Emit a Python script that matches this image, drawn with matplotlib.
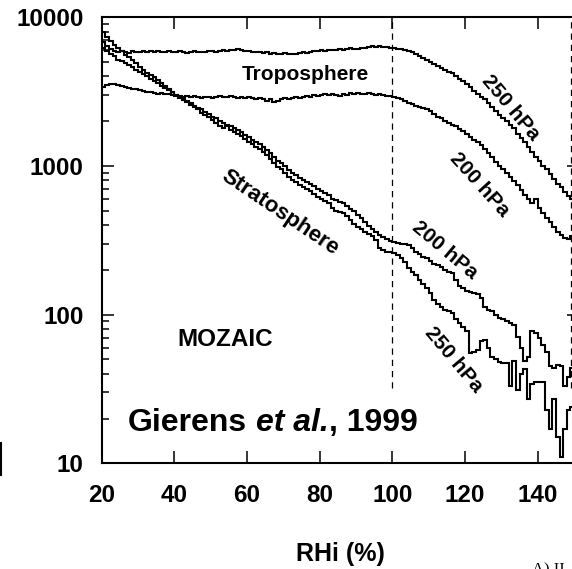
import numpy as np
import matplotlib.pyplot as plt
from matplotlib.lines import Line2D
from matplotlib.ticker import LogLocator, NullFormatter, FixedLocator, FixedFormatter

plt.rcParams['font.family'] = ['Liberation Sans', 'DejaVu Sans']
plt.rcParams['font.weight'] = 'bold'

# RHi bins of 1 %, from 20 to 150
rhi_edges = np.arange(20, 151)

tropo_250 = [6800, 6400, 6100, 5900, 5800, 5900, 5850, 5750, 5900, 5800,
             5850, 5950, 5800, 5900, 5850, 5950, 5800, 5850, 5950, 5800,
             5850, 5900, 5800, 5750, 5850, 5900, 5850, 5800, 5850, 5900,
             5950, 5850, 5900, 6000, 5950, 6050, 6000, 6100, 6000, 5950,
             5900, 5850, 5800, 5850, 5750, 5800, 5700, 5750, 5650, 5700,
             5750, 5700, 5650, 5700, 5750, 5800, 5750, 5850, 5900, 5950,
             6000, 5950, 6050, 6000, 6050, 6100, 6050, 6150, 6200, 6100,
             6150, 6250, 6200, 6300, 6400, 6350, 6400, 6300, 6350, 6250,
             6250, 6150, 6100, 6000, 5900, 5800, 5650, 5500, 5350, 5150,
             5000, 4850, 4700, 4550, 4400, 4300, 4200, 4000, 3850, 3700,
             3550, 3400, 3200, 3050, 2900, 2800, 2650, 2500, 2350, 2200,
             2100, 2000, 1900, 1800, 1650, 1550, 1450, 1350, 1250, 1150,
             1080, 1000, 950, 880, 820, 760, 720, 670, 630, 600]

tropo_200 = [3400, 3500, 3550, 3550, 3500, 3450, 3400, 3350, 3300, 3300,
             3250, 3200, 3150, 3150, 3100, 3050, 3100, 3050, 3050, 3000,
             2950, 2950, 2900, 2950, 2900, 2950, 2900, 2850, 2900, 2900,
             2850, 2900, 2950, 2900, 2900, 2950, 2900, 2850, 2900, 2850,
             2900, 2850, 2800, 2850, 2800, 2750, 2800, 2700, 2750, 2800,
             2850, 2800, 2850, 2900, 2850, 2900, 2950, 2900, 3000, 2950,
             3000, 3050, 3000, 3050, 3000, 2950, 3050, 3000, 3100, 3050,
             3100, 3050, 3050, 3100, 3050, 3000, 3050, 3000, 2950, 2950,
             2900, 2850, 2800, 2750, 2650, 2600, 2550, 2500, 2450, 2400,
             2350, 2250, 2150, 2100, 2000, 1950, 1900, 1850, 1780, 1720,
             1650, 1570, 1500, 1440, 1380, 1300, 1220, 1150, 1060, 1000,
             950, 900, 840, 790, 740, 690, 640, 600, 560, 600,
             520, 480, 450, 420, 390, 360, 345, 330, 325, 340]

strato_200 = [6200, 5900, 5650, 5450, 5200, 5050, 4900, 4750, 4600, 4450,
              4300, 4150, 4000, 3850, 3700, 3600, 3450, 3350, 3230, 3120,
              3020, 2900, 2800, 2750, 2650, 2550, 2450, 2400, 2300, 2250,
              2150, 2100, 2000, 1950, 1900, 1850, 1800, 1750, 1700, 1620,
              1560, 1500, 1450, 1400, 1350, 1280, 1220, 1150, 1080, 1050,
              1000, 940, 900, 870, 830, 800, 780, 760, 730, 700,
              680, 660, 640, 600, 590, 575, 560, 540, 515, 500,
              470, 450, 420, 395, 375, 360, 345, 335, 325, 315,
              310, 305, 300, 300, 295, 280, 265, 255, 245, 240,
              230, 220, 215, 210, 200, 195, 190, 170, 155, 150,
              145, 142, 140, 138, 130, 112, 108, 105, 100, 95,
              93, 90, 88, 85, 71, 60, 49, 52, 77, 75,
              70, 62, 56, 45, 44, 46, 45, 33, 38, 44]

strato_250 = [8000, 7400, 6900, 6500, 6200, 5900, 5600, 5400, 5200, 4900,
              4650, 4450, 4250, 4100, 3950, 3800, 3600, 3450, 3300, 3150,
              3000, 2880, 2780, 2680, 2580, 2480, 2400, 2280, 2200, 2130,
              2050, 1950, 1850, 1800, 1850, 1750, 1700, 1650, 1600, 1520,
              1460, 1400, 1350, 1300, 1250, 1180, 1120, 1050, 980, 960,
              900, 840, 800, 780, 740, 720, 700, 680, 650, 620,
              600, 580, 560, 520, 500, 490, 480, 460, 430, 410,
              390, 375, 360, 350, 340, 320, 280, 270, 265, 262,
              258, 250, 240, 225, 205, 195, 185, 170, 160, 150,
              140, 125, 118, 112, 108, 105, 103, 93, 88, 82,
              78, 55, 56, 58, 66, 68, 60, 52, 50, 48,
              47, 47, 33, 49, 31, 40, 43, 27, 34, 35,
              35, 35, 23, 17, 27, 15, 11, 17, 23, 24]

x_ticks = [20, 40, 60, 80, 100, 120, 140]
y_ticks = [10, 100, 1000, 10000]
sat_lines = [100, 149.3]

fig = plt.figure(figsize=(5.72, 5.69), dpi=100)
ax = fig.add_axes([0.1778, 0.1858, 0.8353, 0.7838])

for vals in [tropo_250, tropo_200, strato_200, strato_250]:
    ax.stairs(vals, rhi_edges, baseline=None, color='black', lw=1.5)

ax.vlines(sat_lines, 32, 10000, colors='black', linestyles=(0, (5, 4)), lw=0.9)

ax.set_yscale('log')
ax.set_xlim(20, 151.5)
ax.set_ylim(10, 10000)

ax.xaxis.set_major_locator(FixedLocator(x_ticks))
ax.xaxis.set_major_formatter(FixedFormatter([str(v) for v in x_ticks]))
ax.yaxis.set_major_locator(FixedLocator(y_ticks))
ax.yaxis.set_major_formatter(FixedFormatter([str(v) for v in y_ticks]))
ax.yaxis.set_minor_locator(LogLocator(base=10, subs=np.arange(2, 10)))
ax.yaxis.set_minor_formatter(NullFormatter())

ax.tick_params(which='both', direction='in', top=True, right=True, width=1.1, labelsize=17.5)
ax.tick_params(which='major', length=8.6)
ax.tick_params(which='minor', length=5)
ax.tick_params(axis='x', pad=15)
ax.tick_params(axis='y', pad=13)
for s in ax.spines.values():
    s.set_linewidth(1.5)

ax.set_xlabel('RHi (%)', fontsize=18, fontweight='bold', labelpad=25)

ax.text(76.1, 3768, 'Troposphere', fontsize=15, ha='center', va='baseline')
ax.text(132.4, 2455, '250 hPa', fontsize=15, rotation=-50, rotation_mode='anchor', ha='center', va='center')
ax.text(124.1, 745, '200 hPa', fontsize=15, rotation=-48, rotation_mode='anchor', ha='center', va='center')
ax.text(69.0, 483, 'Stratosphere', fontsize=16, rotation=-34, rotation_mode='anchor', ha='center', va='center')
ax.text(114.5, 272, '200 hPa', fontsize=15, rotation=-40, rotation_mode='anchor', ha='center', va='center')
ax.text(116.8, 49.5, '250 hPa', fontsize=15, rotation=-50, rotation_mode='anchor', ha='center', va='center')
ax.text(54.1, 67.6, 'MOZAIC', fontsize=17.5, ha='center', va='center')

# citation: regular + italic + regular pieces chained together
t1 = ax.text(27.2, 14.9, 'Gierens', fontsize=23, ha='left', va='bottom')
t2 = ax.annotate('et al.', xy=(1, 0), xycoords=t1, xytext=(6.4, 0), textcoords='offset points',
                 fontsize=23, style='italic', ha='left', va='bottom')
t3 = ax.annotate(', 1999', xy=(1, 0), xycoords=t2, fontsize=23, ha='left', va='bottom')

# bits of the neighbouring panel cut off at the edges
fig.add_artist(Line2D([0.002, 0.002], [1 - 475 / 569, 1 - 443 / 569], transform=fig.transFigure, color='black', lw=1.5))
fig.text(532 / 572, 1 - 574 / 569, 'A) II', fontsize=12, family='Liberation Serif', fontweight='normal', va='baseline')

fig.savefig('out.png', dpi=100)
